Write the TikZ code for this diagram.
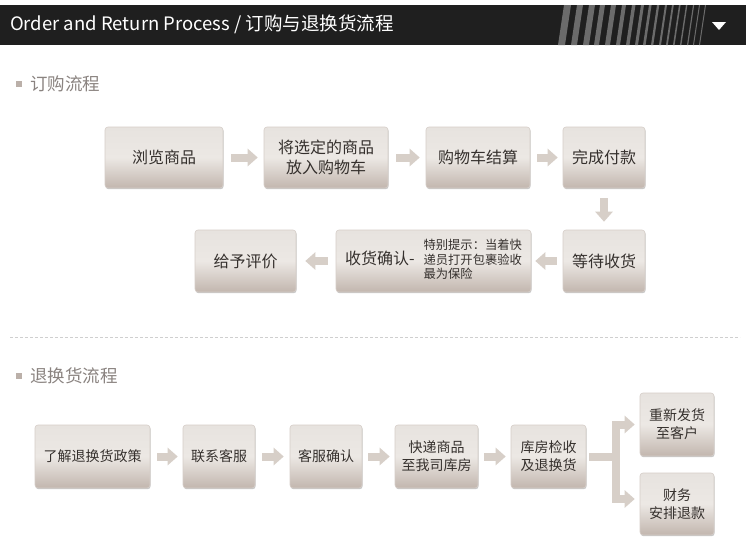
\documentclass[tikz,border=0pt]{standalone}
\usepackage{fontspec}
\setmainfont{Noto Sans CJK SC}
\usetikzlibrary{arrows.meta,shadows}
\definecolor{barbg}{HTML}{1F1F1F}
\definecolor{stripec}{HTML}{6B6B6B}
\definecolor{boxtop}{HTML}{E7E3DF}
\definecolor{boxmid}{HTML}{ECE8E4}
\definecolor{boxbot}{HTML}{C2B6AE}
\definecolor{boxedge}{HTML}{D6CEC8}
\definecolor{txtc}{HTML}{35302D}
\definecolor{arrc}{HTML}{D7CFC8}
\definecolor{labc}{HTML}{8A8380}
\definecolor{sqc}{HTML}{BBB0A9}
\definecolor{dashc}{HTML}{CFCFCF}
\begin{document}
\begin{tikzpicture}[x=1pt,y=-1pt,
  box/.style={rounded corners=3pt, top color=boxtop, bottom color=boxbot, middle color=boxmid,
    draw=boxedge, line width=0.6pt, text=txtc, align=center, inner sep=0pt,
    drop shadow={shadow xshift=0.6pt, shadow yshift=-1.2pt, opacity=0.22, fill=black},
    font=\fontsize{16}{20}\selectfont},
  sbox/.style={box, font=\fontsize{14}{18}\selectfont},
  blk/.style={draw=arrc, line width=8pt, -{Triangle[length=10pt,width=17pt]}},
  blkl/.style={draw=arrc, line width=8pt},
  seclab/.style={anchor=west, text=labc, inner sep=0pt, font=\fontsize{17.5}{20}\selectfont},
  sqn/.style={fill=sqc, minimum size=6pt, inner sep=0pt}
]
\useasboundingbox[fill=white] (0,0) rectangle (750,542);
% header bar
\fill[barbg] (0,5) rectangle (746,45);
\foreach \xa/\w in {558/7,571/6,583/6,594/5,605/5,616/4,626/3.5,635/3,643/2.6,651/2.3,659/2,666/1.8,673/1.6,680/1.4,687/1.2,693/1,699/1}
  \fill[stripec] (\xa,45) -- (\xa+\w,45) -- (\xa+\w+6,5) -- (\xa+6,5) -- cycle;
\fill[white] (712,22) -- (726,22) -- (719,30) -- cycle;
\node[anchor=west, text=white, inner sep=0pt, font=\fontsize{18.5}{21}\selectfont] (title) at (10,24) {Order and Return Process / 订购与退换货流程};

% section 1
\node[sqn] (q1) at (19,84) {};
\node[seclab] (s1) at (30,84) {订购流程};

\node[box, minimum width=118pt, minimum height=61pt] (b1) at (164,157.5) {浏览商品};
\node[box, minimum width=124pt, minimum height=61pt] (b2) at (326,157.5) {将选定的商品\\放入购物车};
\node[box, minimum width=104pt, minimum height=61pt] (b3) at (478,157.5) {购物车结算};
\node[box, minimum width=82pt, minimum height=61pt] (b4) at (604,157.5) {完成付款};
\node[box, minimum width=82pt, minimum height=62pt] (b5) at (604,261) {等待收货};
\node[box, minimum width=195pt, minimum height=62pt] (b6) at (433.5,261)
  {收货确认-\hspace{9pt}{\fontsize{12.3}{13.3}\selectfont\def\arraystretch{1}\begin{tabular}[c]{@{}l@{}}特别提示：当着快\\递员打开包裹验收\\最为保险\end{tabular}}};
\node[box, minimum width=101pt, minimum height=62pt] (b7) at (245.5,261) {给予评价};

\draw[blk, shorten <=8pt, shorten >=6pt] (b1) -- (b2);
\draw[blk, shorten <=8pt, shorten >=6pt] (b2) -- (b3);
\draw[blk, shorten <=7pt, shorten >=5pt] (b3) -- (b4);
\draw[blk, shorten <=10pt, shorten >=8pt] (b4) -- (b5);
\draw[blk, shorten <=6pt, shorten >=4pt] (b5) -- (b6);
\draw[blk, shorten <=8pt, shorten >=9pt] (b6) -- (b7);

% divider
\draw[dashc, line width=0.8pt, dash pattern=on 3pt off 2pt] (10,337) coordinate (d1) -- (740,337) coordinate (d2);

% section 2
\node[sqn] (q2) at (19,376) {};
\node[seclab] (s2) at (30,376) {退换货流程};

\node[sbox, minimum width=115pt, minimum height=63pt] (c1) at (92.5,456.5) {了解退换货政策};
\node[sbox, minimum width=72pt, minimum height=63pt] (c2) at (219,456.5) {联系客服};
\node[sbox, minimum width=72pt, minimum height=63pt] (c3) at (326,456.5) {客服确认};
\node[sbox, minimum width=83pt, minimum height=63pt] (c4) at (436.5,456.5) {快递商品\\至我司库房};
\node[sbox, minimum width=75pt, minimum height=63pt] (c5) at (548.5,456.5) {库房检收\\及退换货};
\node[sbox, minimum width=74pt, minimum height=63pt] (r1) at (677,424.5) {重新发货\\至客户};
\node[sbox, minimum width=74pt, minimum height=62pt] (r2) at (677,504) {财务\\安排退款};

\draw[blk, shorten <=7pt, shorten >=5pt] (c1) -- (c2);
\draw[blk, shorten <=7pt, shorten >=6pt] (c2) -- (c3);
\draw[blk, shorten <=6pt, shorten >=5pt] (c3) -- (c4);
\draw[blk, shorten <=6pt, shorten >=5pt] (c4) -- (c5);

\coordinate (fk) at (616,456.5);
\draw[blkl, shorten <=3pt] (c5.east) -- ([xshift=4pt]fk);
\draw[blk, shorten >=5pt] ([yshift=-4pt]fk) |- (r1.west);
\draw[blk, shorten >=5pt] ([yshift=4pt]fk) |- ([yshift=5pt]r2.west);
\end{tikzpicture}
\end{document}
